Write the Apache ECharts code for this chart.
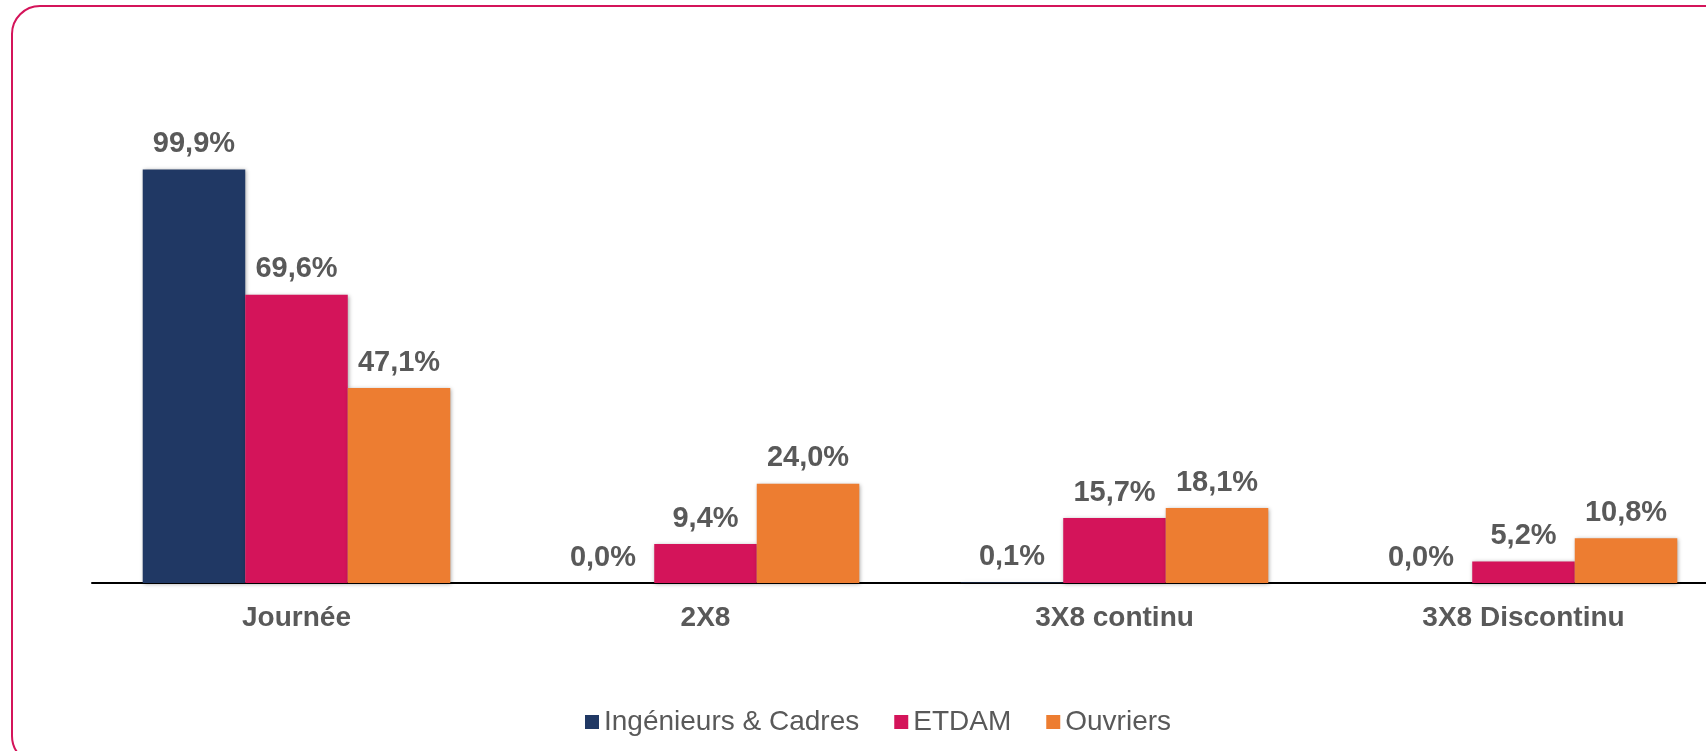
<!DOCTYPE html>
<html>
<head>
<meta charset="utf-8">
<script src="https://cdn.jsdelivr.net/npm/echarts@6/dist/echarts.min.js"></script>
<style>
html,body{margin:0;padding:0;background:#fff;}
#chart{width:1706px;height:751px;}
</style>
</head>
<body>
<div id="chart"></div>
<script>
const categories = ['Journée', '2X8', '3X8 continu', '3X8 Discontinu'];
const seriesNames = ['Ingénieurs & Cadres', 'ETDAM', 'Ouvriers'];
const ingenieursCadres = [99.9, 0.0, 0.1, 0.0];
const etdam = [69.6, 9.4, 15.7, 5.2];
const ouvriers = [47.1, 24.0, 18.1, 10.8];
const colors = ['#203864', '#D4145A', '#ED7D31'];

const FONT = 'Arial, "Liberation Sans", sans-serif';
const fmt = p => p.value.toFixed(1).replace('.', ',') + '%';

function mk(name, data, color) {
  return {
    name: name,
    type: 'bar',
    data: data,
    barGap: '0%',
    barCategoryGap: '24.8%',
    itemStyle: {
      color: color,
      shadowColor: 'rgba(0,0,0,0.35)',
      shadowBlur: 4,
      shadowOffsetX: 1,
      shadowOffsetY: 1
    },
    label: {
      show: true,
      position: 'top',
      distance: 11,
      formatter: fmt,
      color: '#595959',
      fontWeight: 'bold',
      fontSize: 29,
      fontFamily: FONT
    }
  };
}

const chart = echarts.init(document.getElementById('chart'), null, {renderer: 'canvas'});
chart.setOption({
  animation: false,
  backgroundColor: '#ffffff',
  graphic: [{
    type: 'rect',
    z: -10,
    shape: {x: 12, y: 6, width: 1722, height: 758, r: 28},
    style: {fill: 'none', stroke: '#D4145A', lineWidth: 2}
  }],
  legend: {
    left: 580,
    top: 703,
    itemWidth: 14,
    itemHeight: 14,
    itemGap: 35,
    icon: 'rect',
    data: seriesNames,
    textStyle: {color: '#595959', fontSize: 28, fontFamily: FONT}
  },
  grid: {left: 92, top: 169, width: 1636, bottom: 168, outerBoundsMode: 'none'},
  xAxis: {
    type: 'category',
    data: categories,
    axisLine: {show: true, lineStyle: {color: '#000000', width: 2}},
    axisTick: {show: false},
    axisLabel: {
      color: '#595959',
      fontWeight: 'bold',
      fontSize: 28,
      fontFamily: FONT,
      margin: 21
    }
  },
  yAxis: {
    type: 'value',
    min: 0,
    max: 100,
    show: false,
    splitLine: {show: false}
  },
  series: [
    mk(seriesNames[0], ingenieursCadres, colors[0]),
    mk(seriesNames[1], etdam, colors[1]),
    mk(seriesNames[2], ouvriers, colors[2])
  ]
});
</script>
</body>
</html>
